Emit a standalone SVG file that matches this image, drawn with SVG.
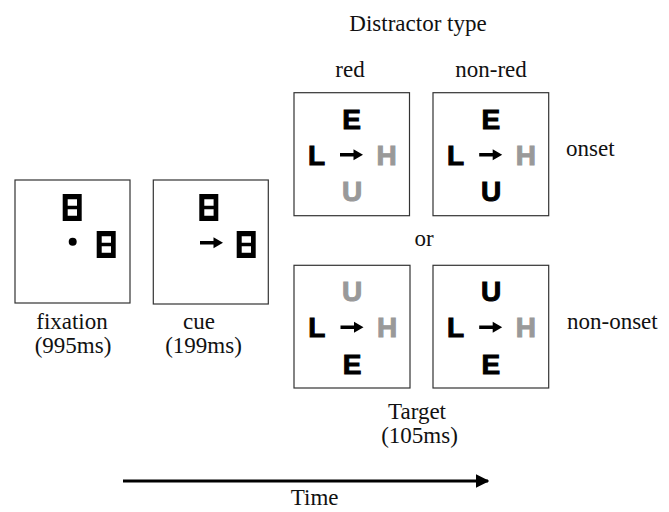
<svg xmlns="http://www.w3.org/2000/svg" width="669" height="512" viewBox="0 0 669 512">
  <style>
    .label { font-family: "Liberation Serif", "Times New Roman", serif; font-size: 23px; fill: #111; }
    .mid { text-anchor: middle; }
    .frame { fill: #fff; stroke: #333; stroke-width: 1.2; }
    .ltr { font-family: "Liberation Sans", Arial, sans-serif; font-size: 28px; font-weight: bold; text-anchor: middle; }
    .blk { fill: #000; stroke: #000; stroke-width: 1; }
    .gry { fill: #999; stroke: #999; stroke-width: 1; }
  </style>
  <defs>
    <!-- figure-eight placeholder: thick black frame with two white windows -->
    <path id="eight" fill="#000" fill-rule="evenodd"
          d="M0,0 H19 V27 H0 Z M5,5.3 V11.8 H14.3 V5.3 Z M5,15.3 V21.7 H14.3 V15.3 Z"/>
    <!-- central cue arrow, drawn from its left tip -->
    <path id="cueArrow" fill="#000"
          d="M0,-1.8 H13.5 V-5.5 L23,0 L13.5,5.5 V1.8 H0 Z"/>
    <marker id="timeHead" viewBox="0 0 10 10" refX="9" refY="5" markerWidth="4.5" markerHeight="4.5" markerUnits="strokeWidth" orient="auto">
      <path d="M0,0 L10,5 L0,10 Z" fill="#000"/>
    </marker>
  </defs>

  <!-- header labels -->
  <text class="label mid" x="418" y="31">Distractor type</text>
  <text class="label mid" x="350" y="77">red</text>
  <text class="label mid" x="491" y="77">non-red</text>
  <text class="label" x="566" y="156">onset</text>
  <text class="label mid" x="424" y="246">or</text>
  <text class="label" x="567" y="329">non-onset</text>

  <!-- fixation display -->
  <g id="fixation">
    <rect class="frame" x="15" y="180" width="115" height="123"/>
    <use href="#eight" x="62.7" y="194"/>
    <use href="#eight" x="96.7" y="231"/>
    <circle cx="72.7" cy="241.7" r="4" fill="#000"/>
    <text class="label mid" x="72" y="329">fixation</text>
    <text class="label mid" x="73" y="353">(995ms)</text>
  </g>

  <!-- cue display -->
  <g id="cue">
    <rect class="frame" x="153.3" y="180" width="115" height="124"/>
    <use href="#eight" x="199.3" y="194"/>
    <use href="#eight" x="236.7" y="231"/>
    <use href="#cueArrow" x="200" y="242.7"/>
    <text class="label mid" x="199" y="329">cue</text>
    <text class="label mid" x="203.5" y="353">(199ms)</text>
  </g>

  <!-- target: red distractor, onset -->
  <g id="target-red-onset">
    <rect class="frame" x="294" y="92.7" width="115.5" height="123"/>
    <text class="ltr blk" x="351.7" y="128.7">E</text>
    <text class="ltr blk" x="316.5" y="164.7">L</text>
    <use href="#cueArrow" x="340" y="154.7"/>
    <text class="ltr gry" x="386.7" y="164.7">H</text>
    <text class="ltr gry" x="352" y="200.8">U</text>
  </g>

  <!-- target: non-red distractor, onset -->
  <g id="target-nonred-onset">
    <rect class="frame" x="433" y="92.7" width="115.7" height="123"/>
    <text class="ltr blk" x="490.8" y="128.7">E</text>
    <text class="ltr blk" x="455.6" y="164.7">L</text>
    <use href="#cueArrow" x="479.2" y="154.7"/>
    <text class="ltr gry" x="525.8" y="164.7">H</text>
    <text class="ltr blk" x="491.1" y="200.8">U</text>
  </g>

  <!-- target: red distractor, non-onset -->
  <g id="target-red-nononset">
    <rect class="frame" x="294" y="265.3" width="116" height="122.7"/>
    <text class="ltr gry" x="352" y="300.7">U</text>
    <text class="ltr blk" x="316.8" y="337.2">L</text>
    <use href="#cueArrow" x="340.5" y="327.2"/>
    <text class="ltr gry" x="387" y="337.2">H</text>
    <text class="ltr blk" x="352" y="373.5">E</text>
  </g>

  <!-- target: non-red distractor, non-onset -->
  <g id="target-nonred-nononset">
    <rect class="frame" x="433" y="265.3" width="115.7" height="122.7"/>
    <text class="ltr blk" x="491.1" y="300.7">U</text>
    <text class="ltr blk" x="455.6" y="337.2">L</text>
    <use href="#cueArrow" x="479.2" y="327.2"/>
    <text class="ltr gry" x="525.8" y="337.2">H</text>
    <text class="ltr blk" x="490.8" y="373.5">E</text>
  </g>

  <!-- target caption -->
  <g id="target-caption">
    <text class="label mid" x="417" y="419">Target</text>
    <text class="label mid" x="419.5" y="443">(105ms)</text>
  </g>

  <!-- time axis -->
  <g id="connectors">
    <line x1="123" y1="481" x2="488" y2="481" stroke="#000" stroke-width="3" marker-end="url(#timeHead)"/>
  </g>
  <text class="label mid" x="314.7" y="505">Time</text>
</svg>
